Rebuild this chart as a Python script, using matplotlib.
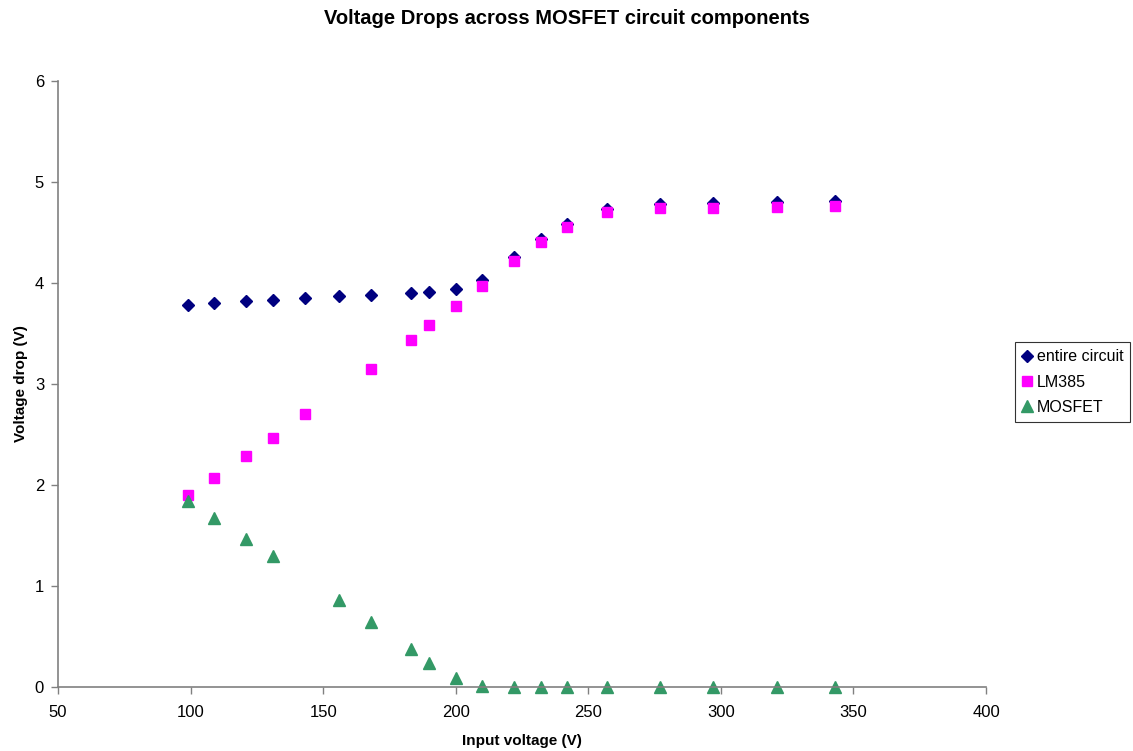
import matplotlib
matplotlib.use("Agg")
import matplotlib.pyplot as plt

plt.rcParams["font.family"] = ["Liberation Sans", "DejaVu Sans"]

# Dati
input_v = [99, 109, 121, 131, 143, 156, 168, 183, 190, 200, 210, 222, 232, 242, 257, 277, 297, 321, 343]
entire_circuit = [3.78, 3.80, 3.82, 3.83, 3.85, 3.87, 3.88, 3.90, 3.91, 3.94, 4.03, 4.26, 4.44, 4.58,
                  4.73, 4.78, 4.79, 4.80, 4.81]

lm385_x = [99, 109, 121, 131, 143, 168, 183, 190, 200, 210, 222, 232, 242, 257, 277, 297, 321, 343]
lm385 = [1.90, 2.07, 2.29, 2.47, 2.70, 3.15, 3.44, 3.58, 3.77, 3.97, 4.22, 4.41, 4.55, 4.70,
         4.74, 4.74, 4.75, 4.76]

mosfet_x = [99, 109, 121, 131, 156, 168, 183, 190, 200, 210, 222, 232, 242, 257, 277, 297, 321, 343]
mosfet = [1.84, 1.67, 1.47, 1.30, 0.86, 0.64, 0.38, 0.24, 0.09, 0.01, 0.0, 0.0, 0.0, 0.0,
          0.0, 0.0, 0.0, 0.0]

x_ticks = [50, 100, 150, 200, 250, 300, 350, 400]
y_ticks = [0, 1, 2, 3, 4, 5, 6]

fig = plt.figure(figsize=(11.33, 7.51), dpi=100)
ax = fig.add_axes([58 / 1133, 1 - 687 / 751, (986 - 58) / 1133, (687 - 81) / 751])

ax.plot(input_v, entire_circuit, linestyle="none", marker="D", markersize=6.5,
        color="#000080", label="entire circuit", clip_on=False)
ax.plot(lm385_x, lm385, linestyle="none", marker="s", markersize=7.5,
        color="#ff00ff", label="LM385", clip_on=False)
ax.plot(mosfet_x, mosfet, linestyle="none", marker="^", markersize=8,
        color="#339966", label="MOSFET", clip_on=False)

ax.set_xlim(50, 400)
ax.set_ylim(0, 6)
ax.set_xticks(x_ticks)
ax.set_yticks(y_ticks)

for side in ["top", "right"]:
    ax.spines[side].set_visible(False)
for side in ["left", "bottom"]:
    ax.spines[side].set_color("#808080")
    ax.spines[side].set_linewidth(1.2)
ax.tick_params(axis="both", direction="out", length=5, width=1, color="#808080",
               labelsize=12, labelcolor="black")
ax.tick_params(axis="x", pad=8)
ax.tick_params(axis="y", pad=5)

ax.set_xlabel("Input voltage (V)", fontsize=11, fontweight="bold", labelpad=10)
ax.set_ylabel("Voltage drop (V)", fontsize=11, fontweight="bold", labelpad=5)

fig.text(0.5, 1 - 19 / 751, "Voltage Drops across MOSFET circuit components",
         ha="center", va="center", fontsize=14.5, fontweight="bold")

leg = ax.legend(loc="center left", bbox_to_anchor=(1015 / 1133, 1 - 382 / 751),
                bbox_transform=fig.transFigure, fontsize=11.5, frameon=True,
                fancybox=False, edgecolor="black", handlelength=0.6,
                handletextpad=0.3, borderpad=0.45, labelspacing=0.65,
                borderaxespad=0)
leg.get_frame().set_linewidth(0.8)

plt.savefig("out.png", dpi=100)
plt.close(fig)
